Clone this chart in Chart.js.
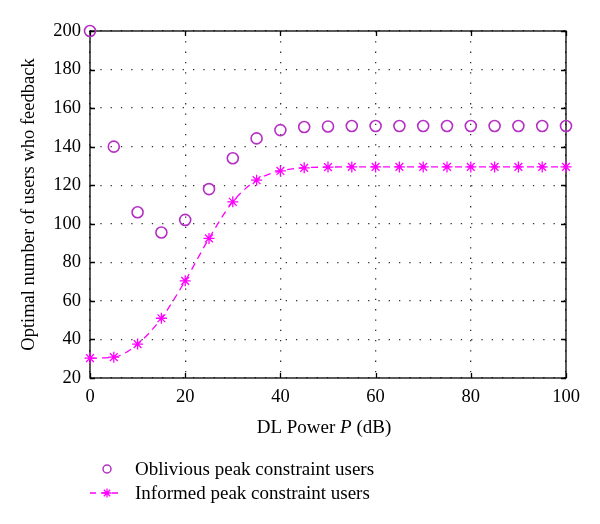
<!DOCTYPE html>
<html>
<head>
<meta charset="utf-8">
<script src="https://cdn.jsdelivr.net/npm/chart.js@4.4.1/dist/chart.umd.min.js"></script>
<style>
  html, body { margin: 0; padding: 0; background: #fff; }
  #wrap { width: 600px; height: 524px; }
</style>
</head>
<body>
<div id="wrap"><canvas id="chart" width="600" height="524"></canvas></div>
<script>
// DL power in dB
const powerDb = [0, 5, 10, 15, 20, 25, 30, 35, 40, 45, 50, 55, 60, 65, 70, 75, 80, 85, 90, 95, 100];

// optimal number of users who feedback
const obliviousUsers = [200, 140, 106, 95.5, 102, 118, 134, 144.3, 148.6, 150.2, 150.5, 150.7, 150.7, 150.7, 150.7, 150.7, 150.7, 150.7, 150.7, 150.7, 150.7];
const informedUsers = [30.3, 30.8, 37.6, 51, 70.4, 92.4, 111.4, 122.6, 127.4, 129, 129.4, 129.5, 129.5, 129.5, 129.5, 129.5, 129.5, 129.5, 129.5, 129.5, 129.5];

const xTicks = [0, 20, 40, 60, 80, 100];
const yTicks = [20, 40, 60, 80, 100, 120, 140, 160, 180, 200];

const seriesNames = ['Oblivious peak constraint users', 'Informed peak constraint users'];

const FONT = '"Liberation Serif", "DejaVu Serif", serif';
const circleColor = '#b52fc4';
const starColor = '#ff00ff';

function toPoints(ys) {
    return powerDb.map((x, i) => ({ x: x, y: ys[i] }));
}

// frame with tick marks pointing inwards, x title and legend
const framePlugin = {
    id: 'frame',
    beforeDatasetsDraw(chart) {
        const ctx = chart.ctx;
        const area = chart.chartArea;
        const xs = chart.scales.x;
        const ys = chart.scales.y;
        ctx.save();
        ctx.strokeStyle = '#000';
        ctx.lineWidth = 1.3;
        ctx.strokeRect(area.left, area.top, area.right - area.left, area.bottom - area.top);
        ctx.beginPath();
        xTicks.forEach(v => {
            const px = Math.round(xs.getPixelForValue(v)) + 0.5;
            ctx.moveTo(px, area.bottom); ctx.lineTo(px, area.bottom - 5);
            ctx.moveTo(px, area.top); ctx.lineTo(px, area.top + 5);
        });
        yTicks.forEach(v => {
            const py = Math.round(ys.getPixelForValue(v)) + 0.5;
            ctx.moveTo(area.left, py); ctx.lineTo(area.left + 5, py);
            ctx.moveTo(area.right, py); ctx.lineTo(area.right - 5, py);
        });
        ctx.stroke();
        ctx.restore();
    },
    afterDraw(chart) {
        const ctx = chart.ctx;
        const area = chart.chartArea;
        ctx.save();
        // x axis title with italic P
        ctx.fillStyle = '#000';
        ctx.textBaseline = 'middle';
        const parts = [['DL Power ', 'normal'], ['P', 'italic'], [' (dB)', 'normal']];
        let total = 0;
        parts.forEach(p => { ctx.font = p[1] + ' 19px ' + FONT; total += ctx.measureText(p[0]).width; });
        let tx = (area.left + area.right) / 2 - total / 2 - 4;
        parts.forEach(p => {
            ctx.font = p[1] + ' 19px ' + FONT;
            ctx.fillText(p[0], tx, 428);
            tx += ctx.measureText(p[0]).width;
        });

        // legend
        ctx.font = '19px ' + FONT;
        ctx.textAlign = 'left';
        ctx.fillText(seriesNames[0], 135, 470);
        ctx.fillText(seriesNames[1], 135, 494);
        ctx.strokeStyle = circleColor;
        ctx.lineWidth = 1.5;
        ctx.beginPath();
        ctx.arc(107, 469, 4, 0, Math.PI * 2);
        ctx.stroke();
        ctx.strokeStyle = starColor;
        ctx.setLineDash([6, 5]);
        ctx.beginPath();
        ctx.moveTo(90, 493); ctx.lineTo(123, 493);
        ctx.stroke();
        ctx.setLineDash([]);
        ctx.lineWidth = 1.3;
        ctx.beginPath();
        for (let k = 0; k < 4; k++) {
            const a = k * Math.PI / 4;
            ctx.moveTo(107 - 4.5 * Math.cos(a), 493 - 4.5 * Math.sin(a));
            ctx.lineTo(107 + 4.5 * Math.cos(a), 493 + 4.5 * Math.sin(a));
        }
        ctx.stroke();
        ctx.restore();
    }
};

new Chart(document.getElementById('chart'), {
    type: 'scatter',
    data: {
        datasets: [
            {
                label: seriesNames[0],
                data: toPoints(obliviousUsers),
                showLine: false,
                clip: false,
                pointStyle: 'circle',
                pointRadius: 5.5,
                borderColor: circleColor,
                backgroundColor: 'rgba(0,0,0,0)',
                borderWidth: 1.6
            },
            {
                label: seriesNames[1],
                data: toPoints(informedUsers),
                showLine: true,
                clip: false,
                cubicInterpolationMode: 'monotone',
                borderDash: [7, 5],
                pointStyle: 'star',
                pointRadius: 5.5,
                borderColor: starColor,
                backgroundColor: starColor,
                borderWidth: 1.3
            }
        ]
    },
    plugins: [framePlugin],
    options: {
        responsive: false,
        animation: false,
        layout: { padding: { left: 0, right: 34, top: 31, bottom: 0 } },
        plugins: {
            legend: { display: false },
            tooltip: { enabled: false }
        },
        scales: {
            x: {
                type: 'linear',
                min: 0,
                max: 100,
                afterFit: s => { s.height = 146; },
                afterBuildTicks: s => { s.ticks = xTicks.map(v => ({ value: v })); },
                border: { display: false, dash: [1.3, 9] },
                grid: {
                    color: '#333',
                    lineWidth: 1.3,
                    drawTicks: false
                },
                ticks: { color: '#000', padding: 8, font: { family: FONT, size: 18.5 } }
            },
            y: {
                type: 'linear',
                min: 20,
                max: 200,
                afterFit: s => { s.width = 90; },
                afterBuildTicks: s => { s.ticks = yTicks.map(v => ({ value: v })); },
                border: { display: false, dash: [1.3, 9] },
                grid: {
                    color: '#333',
                    lineWidth: 1.3,
                    drawTicks: false
                },
                ticks: { color: '#000', padding: 9, font: { family: FONT, size: 18.5 } },
                title: {
                    display: true,
                    text: 'Optimal number of users who feedback',
                    color: '#000',
                    padding: { top: 18, bottom: 0 },
                    font: { family: FONT, size: 18.5 }
                }
            }
        }
    }
});
</script>
</body>
</html>
